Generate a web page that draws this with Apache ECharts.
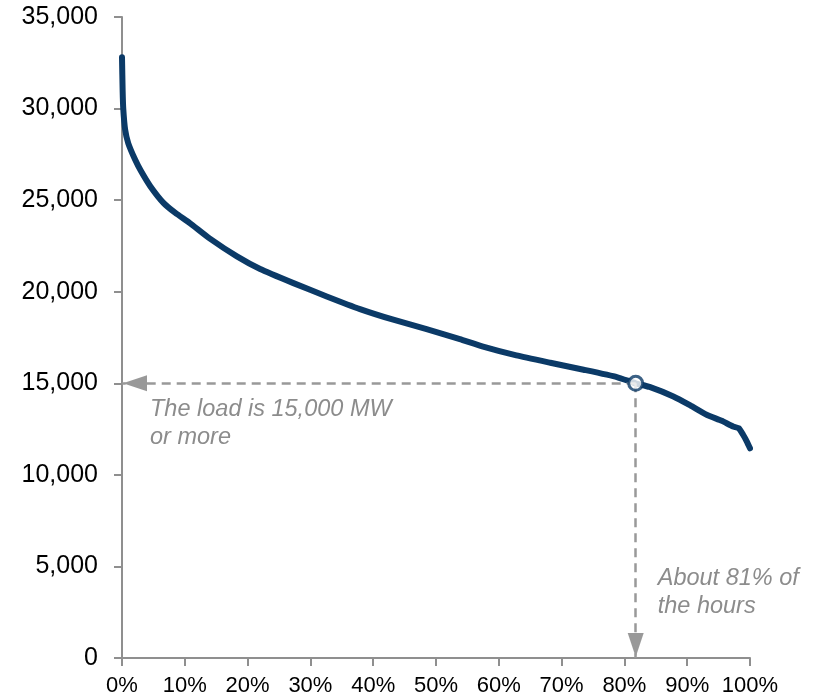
<!DOCTYPE html>
<html>
<head>
<meta charset="utf-8">
<script src="https://cdn.jsdelivr.net/npm/echarts@6/dist/echarts.min.js"></script>
<style>
html,body{margin:0;padding:0;background:#fff;}
#chart{width:821px;height:698px;}
</style>
</head>
<body>
<div id="chart"></div>
<script>
// Share of hours (%) and load (MW)
const hoursPct = [0, 0.1, 0.2, 0.5, 1, 2.1, 3, 4.5, 6.6, 8.5, 10.8, 14, 18.3, 22, 27.3, 32.6, 37.9, 43.2, 48.5, 53.8, 57.5, 62.8, 68.2, 73.5, 78.8, 81.8, 84, 87.8, 90.5, 93.1, 95.5, 97.3, 98.2, 98.9, 99.5, 100];
const loadMW = [32800, 31000, 30000, 28850, 28100, 27200, 26600, 25760, 24850, 24300, 23750, 22900, 21930, 21240, 20470, 19740, 19050, 18470, 17960, 17410, 17000, 16520, 16120, 15740, 15340, 15000, 14800, 14280, 13790, 13280, 12950, 12640, 12550, 12190, 11820, 11450];
// Highlighted point
const markPct = [81.8];
const markLoad = [15000];
// Axis ticks
const yTicks = [0, 5000, 10000, 15000, 20000, 25000, 30000, 35000];
const xTicks = [0, 10, 20, 30, 40, 50, 60, 70, 80, 90, 100];
const noteLoad = ['The load is 15,000 MW', 'or more'];
const noteHours = ['About 81% of', 'the hours'];

const chart = echarts.init(document.getElementById('chart'));
const gray = '#8f8f8f';
const txtGray = '#8c8c8c';
const font = '"Liberation Sans", Arial, sans-serif';

const curve = hoursPct.map((x, i) => [x, loadMW[i]]);
const mp = [markPct[0], markLoad[0]];

chart.setOption({
  animation: false,
  grid: {left: 122, right: 71, top: 17, bottom: 40, containLabel: false},
  xAxis: {
    type: 'value', min: xTicks[0], max: xTicks[xTicks.length - 1], interval: 10,
    axisLine: {show: true, lineStyle: {color: gray, width: 2}},
    axisTick: {show: true, length: 8, lineStyle: {color: gray, width: 2}},
    splitLine: {show: false},
    axisLabel: {color: '#000', fontSize: 22, fontFamily: font, margin: 17, formatter: v => v + '%'}
  },
  yAxis: {
    type: 'value', min: yTicks[0], max: yTicks[yTicks.length - 1], interval: 5000,
    axisLine: {show: true, lineStyle: {color: gray, width: 2}},
    axisTick: {show: true, length: 8, lineStyle: {color: gray, width: 2}},
    splitLine: {show: false},
    axisLabel: {color: '#000', fontSize: 25, fontFamily: font, margin: 24,
      formatter: v => v.toLocaleString('en-US')}
  },
  series: [
    {
      type: 'line', data: curve, showSymbol: false, symbol: 'none', smooth: 0.15,
      lineStyle: {color: '#0b3a67', width: 6, cap: 'round', join: 'round'},
      z: 3
    },
    {
      type: 'line', data: [],
      markLine: {
        silent: true, animation: false,
        symbol: ['none', 'triangle'], symbolSize: [16, 24], symbolOffset: [0, [0, 13]],
        label: {show: false},
        lineStyle: {color: '#999', width: 2.5, type: [9, 6]},
        data: [
          [{coord: mp}, {coord: [xTicks[0], markLoad[0]]}],
          [{coord: mp}, {coord: [markPct[0], yTicks[0]]}]
        ]
      },
      z: 2
    },
    {
      type: 'scatter', data: [mp], symbol: 'circle', symbolSize: 14,
      itemStyle: {color: '#fff', borderColor: '#0b3a67', borderWidth: 3},
      z: 5
    }
  ]
});

function place() {
  const p1 = chart.convertToPixel({gridIndex: 0}, [xTicks[0], markLoad[0]]);
  const p2 = chart.convertToPixel({gridIndex: 0}, [markPct[0], yTicks[0]]);
  chart.setOption({
    graphic: [
      {type: 'text', left: p1[0] + 28, top: p1[1] + 12,
        style: {text: noteLoad.join('\n'), fill: txtGray, font: 'italic 23.5px ' + font, lineHeight: 28}},
      {type: 'text', left: p2[0] + 22, top: p2[1] - 94,
        style: {text: noteHours.join('\n'), fill: txtGray, font: 'italic 23.5px ' + font, lineHeight: 28}}
    ]
  });
}
place();
</script>
</body>
</html>
